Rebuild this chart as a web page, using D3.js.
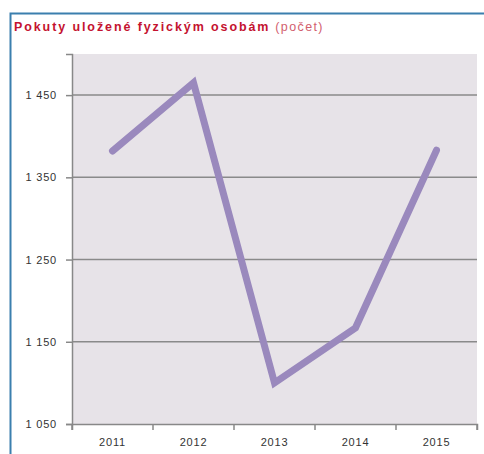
<!DOCTYPE html>
<html><head><meta charset="utf-8">
<script src="https://cdn.jsdelivr.net/npm/d3@7"></script>
<style>body{margin:0;background:#fff}svg{display:block}</style>
</head><body>
<script>
const years = ["2011","2012","2013","2014","2015"];
const values = [1382, 1465, 1100, 1167, 1383];
const yTicks = [1050, 1150, 1250, 1350, 1450];

const W = 484, H = 454;
const svg = d3.select("body").append("svg").attr("width", W).attr("height", H);

// frame
svg.append("path").attr("d", "M10.5,454 V13.5 H484").attr("fill","none")
  .attr("stroke","#3b7fae").attr("stroke-width",2);

// title
const t = svg.append("text").attr("x",14).attr("y",31)
  .attr("font-family","Liberation Sans, Arial, sans-serif").attr("font-size",12.5)
  .attr("letter-spacing",1.9).attr("fill","#c4122f");
t.append("tspan").attr("font-weight","bold").text("Pokuty uložené fyzickým osobám");
t.append("tspan").attr("fill","#d2606e").attr("letter-spacing",1.4).text(" (počet)");

const pLeft = 72, pRight = 477, pTop = 54, pBottom = 424;
const x = d3.scaleBand().domain(years).range([pLeft, pRight]);
const y = d3.scaleLinear().domain([1050, 1500]).range([pBottom, pTop]);

svg.append("rect").attr("x",pLeft).attr("y",pTop).attr("width",pRight-pLeft).attr("height",pBottom-pTop)
  .attr("fill","#e7e3e8");

// gridlines
svg.append("g").selectAll("line").data(yTicks.slice(1)).join("line")
  .attr("x1",pLeft).attr("x2",pRight).attr("y1",d=>y(d)).attr("y2",d=>y(d))
  .attr("stroke","#8a8a8a").attr("stroke-width",1.5);

const fmt = d => d3.format(",")(d).replace(",", " ");
const yAxis = svg.append("g").attr("transform",`translate(${pLeft},0)`)
  .call(d3.axisLeft(y).tickValues(yTicks).tickFormat(fmt).tickSize(6).tickPadding(9));
const xAxis = svg.append("g").attr("transform",`translate(0,${pBottom})`)
  .call(d3.axisBottom(x).tickSize(6).tickPadding(6));
// x-axis ticks at band boundaries
xAxis.selectAll(".tick line").remove();
xAxis.append("g").selectAll("line").data(years.map(d=>x(d)).concat([pRight])).join("line")
  .attr("x1",d=>d).attr("x2",d=>d).attr("y1",0).attr("y2",6).attr("stroke","#888").attr("stroke-width",1.5);

[yAxis, xAxis].forEach(a => {
  a.select(".domain").attr("stroke","#888").attr("stroke-width",1.5);
  a.selectAll(".tick line").attr("stroke","#888").attr("stroke-width",1.5);
  a.selectAll("text").attr("font-family","Liberation Sans, Arial, sans-serif").attr("font-size",11)
    .attr("letter-spacing",0.8).attr("fill","#333");
});
xAxis.selectAll("text").attr("dy","0.9em");

const line = d3.line().x((d,i)=>x(years[i]) + x.bandwidth()/2).y(d=>y(d));
svg.append("path").datum(values).attr("d", line).attr("fill","none")
  .attr("stroke","#9a89bd").attr("stroke-width",7).attr("stroke-linecap","round").attr("stroke-linejoin","miter");
</script>
</body></html>
